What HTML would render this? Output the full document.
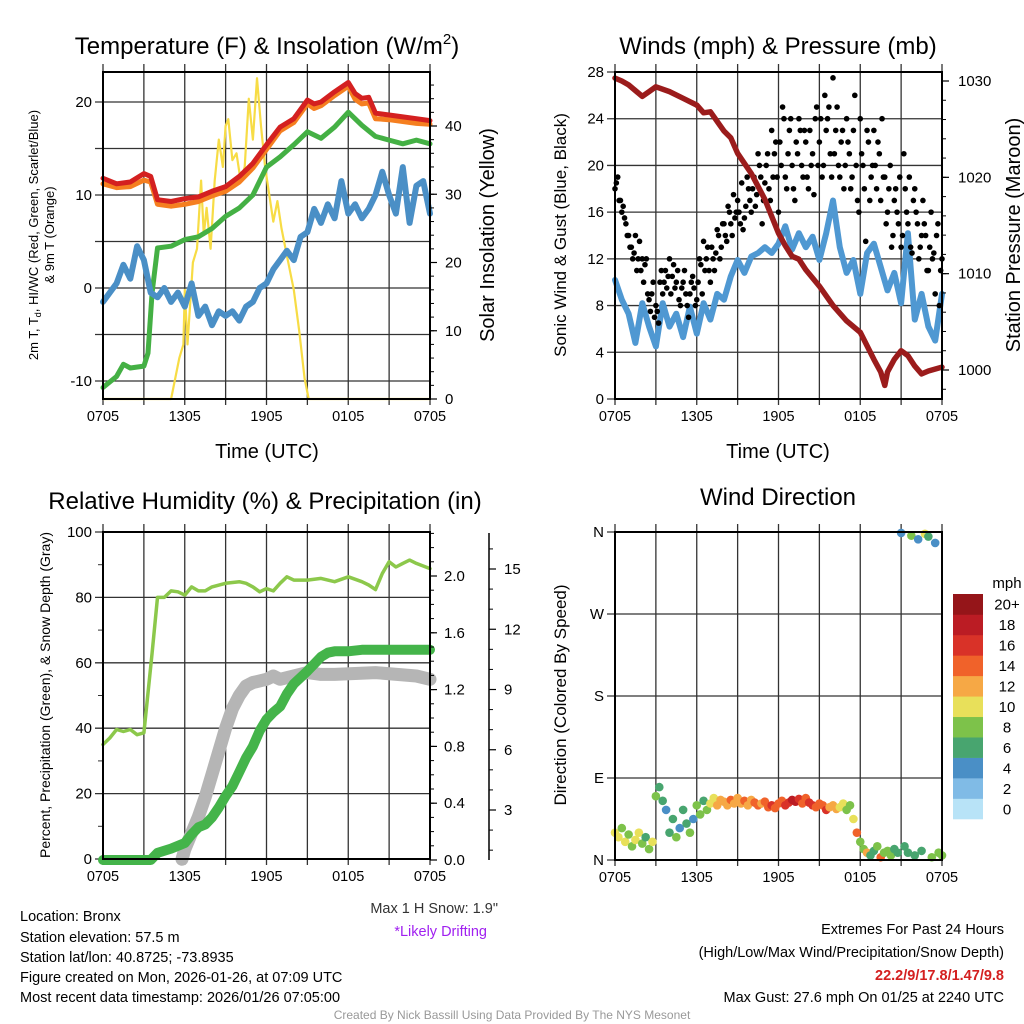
<!DOCTYPE html>
<html><head><meta charset="utf-8"><style>
html,body{margin:0;padding:0;background:#fff;}
svg{display:block;font-family:"Liberation Sans",Arial,sans-serif;}
</style></head><body>
<svg id="chart" width="1024" height="1024" viewBox="0 0 1024 1024" xmlns="http://www.w3.org/2000/svg">
<rect width="1024" height="1024" fill="#fff"/>
<text x="267" y="54" font-size="24" text-anchor="middle">Temperature (F) &amp; Insolation (W/m<tspan font-size="15" dy="-10">2</tspan><tspan dy="10">)</tspan></text>
<text x="778" y="54" font-size="24" text-anchor="middle">Winds (mph) &amp; Pressure (mb)</text>
<text x="265" y="509" font-size="24" text-anchor="middle">Relative Humidity (%) &amp; Precipitation (in)</text>
<text x="778" y="505" font-size="24" text-anchor="middle">Wind Direction</text>
<text x="267" y="458" font-size="20" text-anchor="middle">Time (UTC)</text>
<text x="778" y="458" font-size="20" text-anchor="middle">Time (UTC)</text>
<text transform="translate(38,235) rotate(-90)" font-size="13" text-anchor="middle">2m T, T<tspan font-size="9" dy="3">d</tspan><tspan dy="-3">, HI/WC (Red, Green, Scarlet/Blue)</tspan></text>
<text transform="translate(54,235) rotate(-90)" font-size="13" text-anchor="middle">&amp; 9m T (Orange)</text>
<text transform="translate(494,235) rotate(-90)" font-size="20" text-anchor="middle">Solar Insolation (Yellow)</text>
<text transform="translate(566,235) rotate(-90)" font-size="17" text-anchor="middle">Sonic Wind &amp; Gust (Blue, Black)</text>
<text transform="translate(1020,235) rotate(-90)" font-size="20" text-anchor="middle">Station Pressure (Maroon)</text>
<text transform="translate(50,695) rotate(-90)" font-size="14" text-anchor="middle">Percent, Precipitation (Green), &amp; Snow Depth (Gray)</text>
<text transform="translate(566,695) rotate(-90)" font-size="17" text-anchor="middle">Direction (Colored By Speed)</text>
<g font-size="14.5">
<text x="498" y="913" text-anchor="end" fill="#333">Max 1 H Snow: 1.9"</text>
<text x="487" y="936" text-anchor="end" fill="#a020f0">*Likely Drifting</text>
<text x="20" y="921">Location: Bronx</text>
<text x="20" y="942">Station elevation: 57.5 m</text>
<text x="20" y="962">Station lat/lon: 40.8725; -73.8935</text>
<text x="20" y="982">Figure created on Mon, 2026-01-26, at 07:09 UTC</text>
<text x="20" y="1002">Most recent data timestamp: 2026/01/26 07:05:00</text>
<text x="1004" y="934" text-anchor="end">Extremes For Past 24 Hours</text>
<text x="1004" y="957" text-anchor="end">(High/Low/Max Wind/Precipitation/Snow Depth)</text>
<text x="1004" y="980" text-anchor="end" fill="#d42020" font-weight="bold">22.2/9/17.8/1.47/9.8</text>
<text x="1004" y="1002" text-anchor="end">Max Gust: 27.6 mph On 01/25 at 2240 UTC</text>
<text x="512" y="1019" text-anchor="middle" font-size="12" fill="#999">Created By Nick Bassill Using Data Provided By The NYS Mesonet</text>
</g>
<g id="layer"></g>
</svg>
<script>
// ---------- data (hours since 0705 UTC) ----------
const hourTicks = [0, 6, 12, 18, 24];
const hourTickLabels = ["0705", "1305", "1905", "0105", "0705"];
const tempHours = [0,1,2,3,3.5,4,5,6,7,8,9,10,11,12,13,14,15,15.5,16,17,18,18.5,19,19.5,20,21,22,23,24];
const tempRed =   [11.8,11.2,11.4,12.3,12,9.5,9.3,9.6,9.8,10.4,10.9,12,13.4,15.4,17.3,18.2,20.2,19.8,20,21.1,22.1,20.9,20.4,20.5,18.8,18.6,18.4,18.2,18.0];
const tempOrange = [11.2,10.8,10.9,11.6,11.4,9.0,8.8,9.0,9.3,9.9,10.4,11.4,12.9,14.9,16.9,17.8,19.8,19.3,19.6,20.7,21.7,20.3,19.8,19.9,18.2,18.1,17.9,17.7,17.6];
const dewHours = [0,1,1.5,2,3,3.3,3.6,4,5,6,7,8,9,10,11,12,13,14,15,16,17,18,19,20,21,22,23,24];
const dewGreen = [-10.7,-9.5,-8.2,-8.6,-8.4,-7,-0.5,4.3,4.5,5.2,5.5,6.4,7.7,8.6,10,13,14.1,15.4,16.8,16.1,17.3,18.9,17.5,16.3,15.9,15.5,15.9,15.5];
const chillHours = [0,0.5,1,1.5,2,2.5,3,3.5,4,4.5,5,5.5,6,6.5,7,7.5,8,8.5,9,9.5,10,10.5,11,11.5,12,12.5,13,13.5,14,14.5,15,15.5,16,16.5,17,17.5,18,18.5,19,19.5,20,20.5,21,21.5,22,22.5,23,23.5,24];
const chillBlue = [-1.5,-0.5,0.5,2.5,1,4.5,3,-0.5,-1,0,-1.5,-0.5,-2,0.5,-3,-2,-4,-2.5,-3,-2.5,-3.5,-2,-1.5,0,0.5,2,3,4,3,5.5,6,8.5,7,9,7.5,11.5,8,9,7.5,8.5,10,12.5,10,8,13,7,11,11.5,8];
const solarHours = [0,5,5.3,5.6,5.9,6.0,6.2,6.4,6.6,6.9,7.2,7.4,7.6,7.9,8.2,8.5,8.8,9.0,9.2,9.5,9.8,10.1,10.4,10.7,11.0,11.3,11.6,11.9,12.2,12.5,12.8,13.1,13.5,14.0,14.4,14.8,15.1,24];
const solarYellow = [0,0,3,6,8,16,8,14,20,22,32,24,28,22,32,38,34,40,41,35,36,32,34,44,38,47,40,34,30,26,29,25,21,16,10,3,0,0];
const windHours = chillHours;
const windBlue = [10.2,8.5,7.3,4.8,8.2,6.2,4.5,8.2,6.2,7.3,5.3,7.9,5.6,8.2,6.8,9,8.5,10.5,11.9,10.8,12.2,12.5,13,12.5,13.3,14.8,12.8,14.2,13,13.9,11.9,14.2,17,13,10.8,11.9,9,12.5,13.3,11.3,9.3,10.8,8.2,14.2,6.8,9,6.2,5,9];
const gustBlack = [18,19,17,16.5,15, 14,13,12.5,11,13.5, 12,11.5,9,7.5,10, 8,6.5,11,10,9.5, 12,10.5,9.5,11,8, 10,9,7,10,9.5, 8.5,12,9,11,13, 10,12,12.5,14,13, 15,13.5,16,14,15.5, 17,15,14.5,16.5,18, 16,19,17.5,20,15, 18.5,21,17,19,22, 16,20,24,18,23, 20,17,21,23,19, 22,18,20,17.5,25, 22,19,26,24,21, 27.5,23,20,22,18, 24,21,19,26,17, 24,20,13.5,22,19, 23,18,21,24,19, 16,20,14,18,15, 13,21,16,19,12.5, 18,15,13,17,14, 11,16,12.5,14,8, 12];
const gustBlackOffset = [18.5,17,16,15.5,14, 13,12,14,12,11, 10,12,8.5,9,7, 7.5,10,9,11,10.5, 9,11.5,10,8.5,9.5, 11,8,9,10.5,8, 10,11.5,13.5,12,11, 13,11,14.5,12,15, 14,16.5,15,17.5,16, 16,18.5,15.5,19,17, 18,16.5,21,19,17, 20,18,23,21,19, 22,25,19,21,24, 18,22,24,20,23, 19,23,21,24,20, 24,20,23,25,19, 21,25,19,23,20, 22,18,23,20,16, 21,18,23,17,20, 20,22,17,19,15, 18,13,17,16,19, 14,18,15,13,17, 16,12,14,15,11, 13,12,9,15,11];
const pressHours = [0,0.5,1,2,2.5,3,4,5,6,6.5,7,8,8.5,9,10,11,12,12.5,13,13.5,14,15,16,17,18,19,19.5,19.8,20,20.5,21,21.5,22,22.5,23,24];
const pressMaroon = [1030.3,1030,1029.6,1028.4,1028.9,1029.4,1028.9,1028.2,1027.5,1026.7,1026.8,1024.8,1024.1,1022.5,1020.4,1017.7,1014.2,1012.9,1011.8,1011.5,1010.4,1008.7,1006.7,1005.1,1003.9,1001.1,999.8,998.4,999.8,1001.1,1002,1001.5,1000.4,999.6,999.9,1000.3];
const rhHours = [0,0.5,1,1.5,2,2.5,3,3.3,3.6,4,4.5,5,5.5,6,6.5,7,7.5,8,9,10,10.5,11,11.5,12,12.5,13,13.5,14,15,16,17,18,19,19.5,20,20.5,21,21.5,22,22.5,23,24];
const rhPercent = [35,37,39.6,39,39.6,38,38.6,50.8,63,80,80,82,81.7,80.7,83.2,82,82,83.2,84.3,84.8,84.3,83.2,81.7,82.7,82,84.3,86.3,85.3,85.3,85.8,84.8,86.3,84.8,83.8,82.4,87.3,90.9,89.3,90.4,91.4,90.4,88.8];
const precipHours = [0,3.5,4,5,6,6.5,7,7.5,8,8.5,9,9.5,10,10.5,11,11.5,12,12.5,13,13.5,14,15,16,16.5,17,18,19,24];
const precipInches = [0,0,0.05,0.08,0.12,0.18,0.23,0.25,0.3,0.37,0.45,0.52,0.62,0.72,0.8,0.91,0.99,1.04,1.08,1.17,1.24,1.33,1.43,1.46,1.47,1.47,1.48,1.48];
const snowHours = [5.8,6,6.5,7,7.5,8,8.5,9,9.5,10,10.5,11,12,12.5,13,14,15,16,17,20,23,24];
const snowInches = [0.55,1.04,1.85,2.66,3.64,4.78,5.92,7.07,8.04,8.7,9.18,9.35,9.51,9.67,9.51,9.67,9.84,9.75,9.75,9.84,9.67,9.51];
const dirDegrees = [30,25,35,20, 28,15,22,30, 18,25,12,20, 70,80,65,55, 30,45,25,35, 55,40,30,45, 60,50,65,55, 62,68,60,66, 64,60,66,62, 68,62,65,60, 66,63,60,62, 64,58,60,57, 62,65,60,63, 66,64,67,62, 68,63,60,58, 62,60,55,58, 60,56,58,62, 55,60,45,30, 20,12,8,5, 10,15,3,8, 10,5,12,8, 359,15,8,356, 5,352,10,358, 355,3,348,8, 5];
const dirSpeeds = [9,10,8,9, 7,8,9,10, 7,6,8,9, 7,6,5,4, 5,6,7,4, 6,5,7,4, 7,8,6,8, 9,10,11,12, 12,11,13,12, 11,12,13,12, 12,13,14,12, 13,14,15,14, 14,13,15,16, 17,18,15,14, 13,15,16,14, 14,13,15,12, 11,12,10,9, 8,7,9,13, 8,7,12,6, 5,7,14,8, 7,8,6,5, 4,6,5,7, 6,4,5,9, 5,7,4,8, 8];
const speedBins = ["0","2","4","6","8","10","12","14","16","18","20+"];
const speedColors = ["#b8e3f7","#80bbe6","#4a8fc6","#48a56f","#7dc24a","#e8e05a","#f6a845","#f0622a","#d93228","#bb1c24","#951519"];

// ---------- helpers ----------
const NS = "http://www.w3.org/2000/svg";
const layer = document.getElementById("layer");
function make(tag, attrs, parent) {
  const el = document.createElementNS(NS, tag);
  for (const k in attrs) el.setAttribute(k, attrs[k]);
  (parent || layer).appendChild(el);
  return el;
}
function linScale(d0, d1, r0, r1) { return v => r0 + (v - d0) * (r1 - r0) / (d1 - d0); }
function pathFrom(xs, ys, sx, sy) {
  return xs.map((h, i) => (i ? "L" : "M") + sx(h).toFixed(1) + "," + sy(ys[i]).toFixed(1)).join("");
}
function label(x, y, txt, anchor, size, name, fill) {
  const t = make("text", {x: x, y: y, "text-anchor": anchor, "font-size": size, fill: fill || "#000"});
  t.textContent = txt;
  
  
  return t;
}

function panel(name, x0, x1, y0, y1, ySc, yTicks, yTickLabels, yMinor) {
  const sx = linScale(0, 24, x0, x1);
  const g = make("g", {});
  
  
  for (let h = 0; h <= 24; h += 3) {
    const ln = make("line", {x1: sx(h), x2: sx(h), y1: y0 - 8, y2: y1 + 6, stroke: "#333", "stroke-width": 1.3}, g);
    
    
  }
  yTicks.forEach((v, i) => {
    const y = ySc(v);
    const ln = make("line", {x1: x0 - 8, x2: x1, y1: y, y2: y, stroke: "#333", "stroke-width": 1.3}, g);
    
    
    if (yTickLabels[i] !== "") label(x0 - 11, y + 5, yTickLabels[i], "end", 15, name + '-y-tick-label');
  });
  (yMinor || []).forEach(v => {
    const y = ySc(v);
    const ln = make("line", {x1: x0 - 5, x2: x0, y1: y, y2: y, stroke: "#333", "stroke-width": 1}, g);
    
    
  });
  hourTicks.forEach((h, i) => {
    label(sx(h), y1 + 22, hourTickLabels[i], "middle", 14.5, name + '-x-tick-label');
  });
  return sx;
}
function frame(name, x0, x1, y0, y1) {
  const r = make("rect", {x: x0, y: y0, width: x1 - x0, height: y1 - y0, fill: "none", stroke: "#000", "stroke-width": 2});
  
  
}
function rightAxis(name, x, y0, y1, sc, ticks, labels, minor, lblX) {
  ticks.forEach((v, i) => {
    const y = sc(v);
    const ln = make("line", {x1: x, x2: x + 7, y1: y, y2: y, stroke: "#000", "stroke-width": 1.2});
    
    
    label(lblX, y + 5, labels[i], "start", 15, name + '-tick-label');
  });
  minor.forEach(v => {
    const y = sc(v);
    if (y < y0 || y > y1) return;
    const ln = make("line", {x1: x, x2: x + 4, y1: y, y2: y, stroke: "#000", "stroke-width": 1});
    
    
  });
}
function series(name, xs, ys, sx, sy, color, width) {
  const p = make("path", {d: pathFrom(xs, ys, sx, sy), fill: "none", stroke: color, "stroke-width": width, "stroke-linejoin": "round", "stroke-linecap": "round"});
  
  
  return p;
}
function range(a, b, s) { const r = []; for (let v = a; v <= b + 1e-9; v += s) r.push(+v.toFixed(3)); return r; }

// ---------- panel 1: temperature ----------
(function () {
  const X0 = 103, X1 = 430, Y0 = 72, Y1 = 399;
  const sy = linScale(0, 20, 288, 102);
  const sSolar = linScale(0, 40, 399, 126);
  const sx = panel("temperature", X0, X1, Y0, Y1, sy, [-10,-5,0,5,10,15,20], ["-10","","0","","10","","20"], []);
  series("solar-insolation-line", solarHours, solarYellow, sx, sSolar, "#f7dc45", 2.2);
  series("dewpoint-line", dewHours, dewGreen, sx, sy, "#44b044", 5);
  series("temperature-9m-line", tempHours, tempOrange, sx, sy, "#f57f20", 5);
  series("temperature-2m-line", tempHours, tempRed, sx, sy, "#d42020", 5);
  series("wind-chill-line", chillHours, chillBlue, sx, sy, "#4a8fc6", 6);
  frame("temperature", X0, X1, Y0, Y1);
  rightAxis("insolation-axis", X1, Y0, Y1, sSolar, [0,10,20,30,40], ["0","10","20","30","40"], range(2, 46, 2), 445);
})();

// ---------- panel 2: winds & pressure ----------
(function () {
  const X0 = 615, X1 = 942, Y0 = 72, Y1 = 399;
  const sy = linScale(0, 28, 399, 72);
  const sp = linScale(1000, 1030, 370, 81);
  const sx = panel("winds", X0, X1, Y0, Y1, sy, [0,4,8,12,16,20,24,28], ["0","4","8","12","16","20","24","28"], []);
  series("sonic-wind-line", windHours, windBlue, sx, sy, "#4f98d2", 6);
  gustBlack.forEach((v, i) => {
    const c = make("circle", {cx: sx(i * 0.2), cy: sy(v), r: 2.8, fill: "#000"});
    
    
  });
  gustBlackOffset.forEach((v, i) => {
    const c = make("circle", {cx: sx(0.1 + i * 0.2), cy: sy(v), r: 2.8, fill: "#000"});
    
    
  });
  series("pressure-line", pressHours, pressMaroon, sx, sp, "#9b1c1c", 5.5);
  frame("winds", X0, X1, Y0, Y1);
  rightAxis("pressure-axis", X1, Y0, Y1, sp, [1000,1010,1020,1030], ["1000","1010","1020","1030"], range(998, 1030, 2), 958);
})();

// ---------- panel 3: humidity & precipitation ----------
(function () {
  const X0 = 103, X1 = 430, Y0 = 532, Y1 = 859;
  const sy = linScale(0, 100, 859, 532);
  const sPrec = linScale(0, 2, 860, 576);
  const sSnow = linScale(3, 15, 810, 569);
  const sx = panel("humidity", X0, X1, Y0, Y1, sy, [0,20,40,60,80,100], ["0","20","40","60","80","100"], [10,30,50,70,90]);
  series("snow-depth-line", snowHours, snowInches, sx, sSnow, "#b5b5b5", 13);
  series("precipitation-line", precipHours, precipInches, sx, sPrec, "#44b44a", 10);
  series("relative-humidity-line", rhHours, rhPercent, sx, sy, "#8cc84b", 3.5);
  frame("humidity", X0, X1, Y0, Y1);
  rightAxis("precip-axis", X1, Y0, Y1, sPrec, [0,0.4,0.8,1.2,1.6,2.0], ["0.0","0.4","0.8","1.2","1.6","2.0"], range(0.1, 2.3, 0.1), 444);
  const ax = make("line", {x1: 489, x2: 489, y1: 533, y2: 860, stroke: "#000", "stroke-width": 1.5});
  
  
  rightAxis("snow-axis", 489, 533, 860, sSnow, [3,6,9,12,15], ["3","6","9","12","15"], [1,2,4,5,7,8,10,11,13,14,16], 504);
})();

// ---------- panel 4: wind direction ----------
(function () {
  const X0 = 615, X1 = 942, Y0 = 532, Y1 = 860;
  const sy = linScale(0, 360, 860, 532);
  const sx = panel("direction", X0, X1, Y0, Y1, sy, [0,90,180,270,360], ["N","E","S","W","N"], []);
  dirDegrees.forEach((d, i) => {
    const sp = dirSpeeds[i] === undefined ? 6 : dirSpeeds[i];
    const idx = Math.min(10, Math.max(0, Math.round(sp / 2)));
    const c = make("circle", {cx: sx(i * 0.25), cy: sy(d), r: 4.3, fill: speedColors[idx]});
    
    
  });
  frame("direction", X0, X1, Y0, Y1);
  // colorbar
  const bh = 225 / speedBins.length;
  speedBins.forEach((b, i) => {
    const y = 819 - (i + 1) * bh;
    const r = make("rect", {x: 953, y: y, width: 30, height: bh + 0.3, fill: speedColors[i]});
    
    
    label(1007, y + bh / 2 + 5.5, b, "middle", 15, 'colorbar-label');
  });
  label(1007, 588, "mph", "middle", 15, 'colorbar-title');
})();
</script>
</body></html>
